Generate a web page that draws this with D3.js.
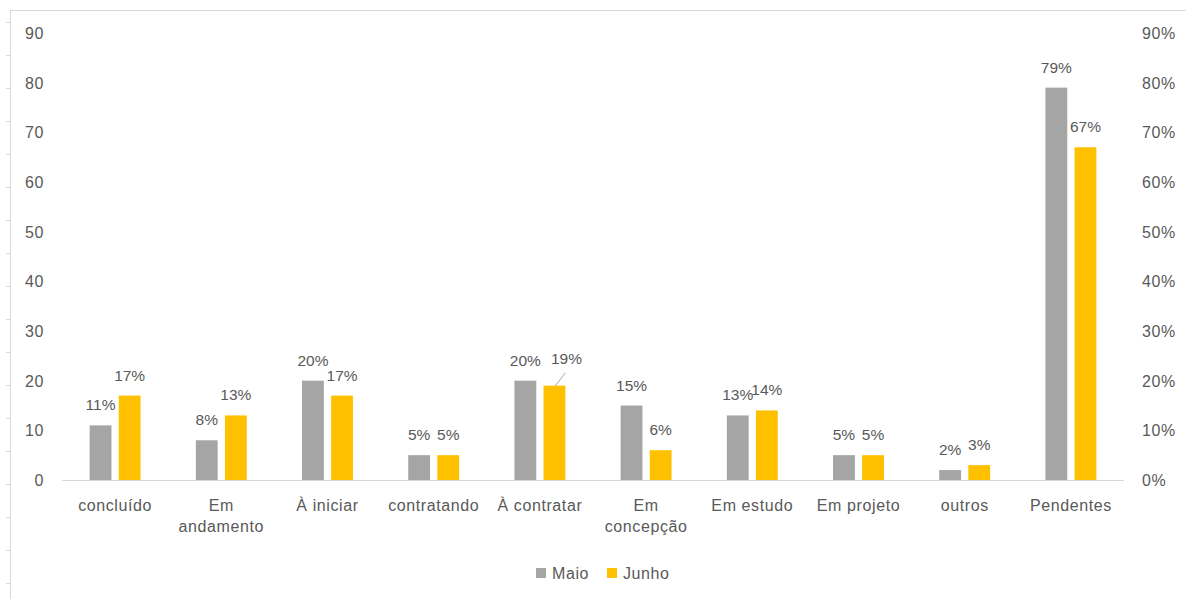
<!DOCTYPE html>
<html>
<head>
<meta charset="utf-8">
<script src="https://cdn.jsdelivr.net/npm/d3@7"></script>
<style>
  body { margin: 0; background: #fff; }
  svg text { font-family: "Liberation Sans", Arial, sans-serif; fill: #595959; letter-spacing: 0.6px; }
  svg text.value { letter-spacing: 0; }
</style>
</head>
<body>
<div id="chart"></div>
<script>
const categories = ["concluído", "Em andamento", "À iniciar", "contratando", "À contratar",
                    "Em concepção", "Em estudo", "Em projeto", "outros", "Pendentes"];
const categoryLines = [["concluído"], ["Em", "andamento"], ["À iniciar"], ["contratando"], ["À contratar"],
                       ["Em", "concepção"], ["Em estudo"], ["Em projeto"], ["outros"], ["Pendentes"]];
const maio  = [11, 8, 20, 5, 20, 15, 13, 5, 2, 79];
const junho = [17, 13, 17, 5, 19, 6, 14, 5, 3, 67];
const seriesNames = ["Maio", "Junho"];
const leftTicks = [0, 10, 20, 30, 40, 50, 60, 70, 80, 90];
const rightTicks = [0, 0.1, 0.2, 0.3, 0.4, 0.5, 0.6, 0.7, 0.8, 0.9];

const colors = {Maio: "#A5A5A5", Junho: "#FFC000"};
const W = 1186, H = 599;

const svg = d3.select("#chart").append("svg")
  .attr("width", W).attr("height", H);

// outer frame: top border and left line with ticks
svg.append("line").attr("x1", 10).attr("x2", W).attr("y1", 10.5).attr("y2", 10.5)
  .attr("stroke", "#d9d9d9");
const frameY = d3.scaleLinear().domain([0, 17]).range([583, 21.7]);
svg.append("line").attr("x1", 10.5).attr("x2", 10.5).attr("y1", 10).attr("y2", H)
  .attr("stroke", "#d9d9d9");
svg.append("g").selectAll("line").data(d3.range(0, 18)).join("line")
  .attr("x1", 6).attr("x2", 10)
  .attr("y1", d => Math.round(frameY(d)) + 0.5).attr("y2", d => Math.round(frameY(d)) + 0.5)
  .attr("stroke", "#d9d9d9");

const x = d3.scaleBand().domain(categories).range([62, 1124]).paddingInner(0).paddingOuter(0);
const xs = d3.scaleBand().domain(seriesNames).range([0, x.bandwidth()]).paddingInner(0.25).paddingOuter(0.95);
const y = d3.scaleLinear().domain([0, 90]).range([480, 33]);
const y2 = d3.scaleLinear().domain([0, 0.9]).range([480, 33]);

// left axis
const gl = svg.append("g").attr("transform", "translate(44,0)")
  .call(d3.axisLeft(y).tickValues(leftTicks).tickSize(0).tickPadding(0));
gl.select(".domain").remove();
gl.selectAll("text").style("font-size", "16px").attr("dy", "0.35em");

// right axis
const gr = svg.append("g").attr("transform", "translate(1142,0)")
  .call(d3.axisRight(y2).tickValues(rightTicks).tickFormat(d3.format(".0%")).tickSize(0).tickPadding(0));
gr.select(".domain").remove();
gr.selectAll("text").style("font-size", "16px").attr("dy", "0.35em");

// baseline
svg.append("line").attr("x1", x.range()[0]).attr("x2", x.range()[1])
  .attr("y1", y(0) + 0.5).attr("y2", y(0) + 0.5).attr("stroke", "#d9d9d9");

const rows = categories.map((c, i) => ({cat: c, lines: categoryLines[i], Maio: maio[i], Junho: junho[i]}));

// bars
const groups = svg.append("g").selectAll("g").data(rows).join("g")
  .attr("transform", d => `translate(${x(d.cat)},0)`);
seriesNames.forEach(s => {
  groups.append("rect")
    .attr("x", xs(s)).attr("width", xs.bandwidth())
    .attr("y", d => y(d[s])).attr("height", d => y(0) - y(d[s]))
    .attr("fill", colors[s]);
});

// data labels
seriesNames.forEach(s => {
  groups.append("text").attr("class", "value")
    .attr("text-anchor", "middle").style("font-size", "15.5px")
    .attr("x", d => xs(s) + xs.bandwidth() / 2 + (d.cat === "À contratar" && s === "Junho" ? 12 : 0))
    .attr("y", d => y(d[s]) - 15 - (d.cat === "À contratar" && s === "Junho" ? 7 : 0))
    .text(d => d3.format(".0%")(d[s] / 100));
});
// leader line for moved label
const moved = rows.find(d => d.cat === "À contratar");
svg.append("line")
  .attr("x1", x(moved.cat) + xs("Junho") + xs.bandwidth() / 2 + 1).attr("y1", y(moved.Junho))
  .attr("x2", x(moved.cat) + xs("Junho") + xs.bandwidth() / 2 + 11).attr("y2", y(moved.Junho) - 13)
  .attr("stroke", "#a6a6a6");

// category labels
groups.append("text").attr("text-anchor", "middle").style("font-size", "16px")
  .attr("transform", d => `translate(${x.bandwidth() / 2},${y(0) + 31})`)
  .selectAll("tspan").data(d => d.lines).join("tspan")
  .attr("x", 0).attr("dy", (d, i) => i === 0 ? 0 : 21).text(d => d);

// legend
const legend = svg.append("g").attr("transform", "translate(536,568)");
const legendX = [0, 71];
seriesNames.forEach((s, i) => {
  legend.append("rect").attr("x", legendX[i]).attr("y", 0).attr("width", 10).attr("height", 10)
    .attr("fill", colors[s]);
  legend.append("text").attr("x", legendX[i] + 16).attr("y", 11).style("font-size", "16px").text(s);
});
</script>
</body>
</html>
